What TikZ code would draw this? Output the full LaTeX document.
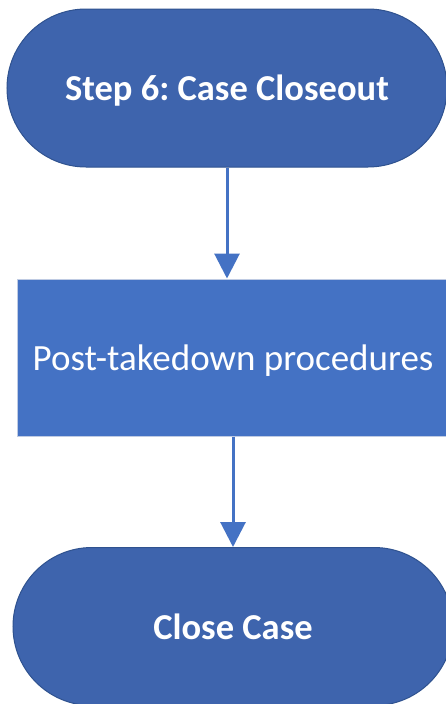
\documentclass[tikz,border=0pt]{standalone}
\usepackage{fontspec}
\setmainfont{Carlito}
\frenchspacing
\usetikzlibrary{arrows.meta}
\definecolor{termfill}{HTML}{3E64AD}
\definecolor{termdraw}{HTML}{2F528F}
\definecolor{procfill}{HTML}{4472C4}
\definecolor{procdraw}{HTML}{BFCBE3}
\tikzset{
  terminal/.style={rectangle, rounded corners=79pt, fill=termfill, draw=termdraw, line width=1pt,
    minimum width=440pt, minimum height=158pt, inner sep=0pt, text depth=0pt, text=white, font=\fontsize{36.5}{42}\selectfont\bfseries},
  process/.style={rectangle, fill=procfill, draw=procdraw, line width=1pt,
    minimum width=432pt, minimum height=157pt, inner sep=0pt, text depth=0pt, text=white, font=\fontsize{37}{42}\selectfont},
  flow/.style={draw=procfill, line width=3pt, -{Triangle[width=25pt,length=25pt]}, shorten >=0pt}
}
\begin{document}
\begin{tikzpicture}[x=1pt,y=-1pt]
\useasboundingbox (0,0) rectangle (446,704);
\fill[white] (0,0) rectangle (446,704);
\clip (0,0) rectangle (446,704);
\node[terminal] (top) at (227,88) {Step 6: Case Closeout};
\node[process] (proc) at (233,357.5) {Post-takedown procedures};
\node[terminal] (close) at (233,626.5) {Close Case};
\draw[flow] (top.south) -- (top.south |- proc.north);
\draw[flow] (proc.south) -- (close.north);
\end{tikzpicture}
\end{document}
